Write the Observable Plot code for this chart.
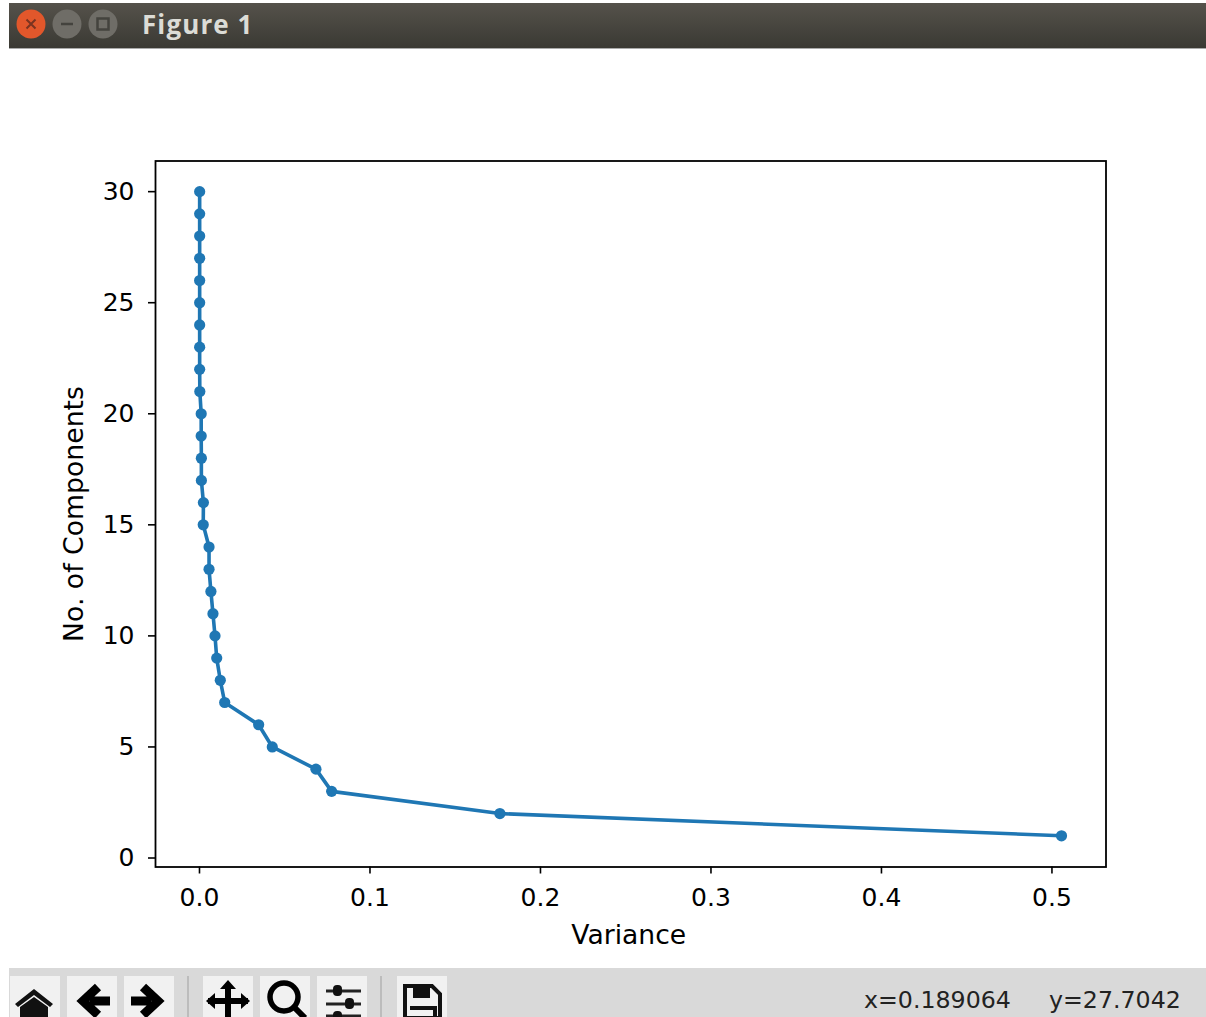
<!DOCTYPE html>
<html>
<head>
<meta charset="utf-8">
<title>Figure 1</title>
<script src="https://cdn.jsdelivr.net/npm/d3@7"></script>
<script src="https://cdn.jsdelivr.net/npm/@observablehq/plot@0.6"></script>
<style>
  html, body { margin: 0; padding: 0; background: #fff; width: 1206px; height: 1017px; overflow: hidden; }
  #chart { position: absolute; left: 0; top: 0; }
  #chart figure { margin: 0; }
  #titlebar { position: absolute; left: 9px; top: 3px; width: 1197px; height: 46px;
    background: linear-gradient(#55524b, #3a3933); border-bottom: 1px solid #aaa; box-sizing: border-box; }
  #titletext { position: absolute; left: 142px; top: 8px; font: bold 26px "Open Sans", sans-serif; letter-spacing: 1.1px; color: #dcdcd6; line-height: 32px; }
  #toolbar { position: absolute; left: 9px; top: 968px; width: 1197px; height: 49px; background: #d9d9d9; overflow: hidden; }
  #chrome { position: absolute; left: 0; top: 0; }
  .status { position: absolute; top: 985px; font: 23.7px "DejaVu Sans", sans-serif; color: #222; line-height: 30px; white-space: pre; }
</style>
</head>
<body>
<div id="chart"></div>
<div id="titlebar"></div>
<div id="toolbar"></div>
<svg id="chrome" width="1206" height="1017" viewBox="0 0 1206 1017">
  <circle cx="31" cy="24" r="14.5" fill="#e2572b"/>
  <path d="M26.5 19.5l9 9m0-9l-9 9" stroke="#7a3320" stroke-width="2"/>
  <circle cx="67" cy="24" r="14.5" fill="#6f6d67"/>
  <path d="M61 24h12" stroke="#44433e" stroke-width="2.5"/>
  <circle cx="103" cy="24" r="14.5" fill="#6f6d67"/>
  <rect x="97.5" y="18.5" width="11" height="11" fill="none" stroke="#44433e" stroke-width="2.5"/>
  <g fill="#f1f1f1">
    <rect x="10" y="976" width="50" height="41"/><rect x="67" y="976" width="50" height="41"/><rect x="124" y="976" width="50" height="41"/>
    <rect x="203" y="976" width="50" height="41"/><rect x="260" y="976" width="50" height="41"/><rect x="317" y="976" width="50" height="41"/>
    <rect x="397" y="976" width="50" height="41"/>
  </g>
  <path d="M188 976v41M381 976v41" stroke="#bcbcbc" stroke-width="2"/>
  <path d="M15 1004l19-15 19 15-3 3-16-12-16 12zM20 1007l14-10 14 10v10h-28z" fill="#111"/>
  <path d="M110 1001H90M98 987l-15 14 15 14" fill="none" stroke="#000" stroke-width="9"/>
  <path d="M131 1001h20M143 987l15 14-15 14" fill="none" stroke="#000" stroke-width="9"/>
  <path d="M228 986v31M208 1001h40" stroke="#000" stroke-width="6"/>
  <path d="M228 980l-8 9h16zM206 1001l9-8v16zM250 1001l-9-8v16z" fill="#000"/>
  <circle cx="284" cy="997" r="14" fill="none" stroke="#000" stroke-width="5.5"/>
  <path d="M294 1007l11 11" stroke="#000" stroke-width="6"/>
  <path d="M326 991h35M326 1004h35M326 1016h35" stroke="#222" stroke-width="3"/>
  <rect x="333" y="985" width="9" height="11" rx="4" fill="#111"/><rect x="345" y="998" width="9" height="11" rx="4" fill="#111"/><rect x="333" y="1011" width="9" height="11" rx="4" fill="#111"/>
  <path d="M405 986h27l8 8v24h-35z" fill="none" stroke="#111" stroke-width="4"/>
  <path d="M413 985v13h17v-13z" fill="#111"/><path d="M410 1008h25v10" fill="none" stroke="#111" stroke-width="4"/>
</svg>
<div id="titletext">Figure 1</div>
<div class="status" style="left:864px">x=0.189064</div>
<div class="status" style="left:1049px">y=27.7042</div>
<script>
const components = [1, 2, 3, 4, 5, 6, 7, 8, 9, 10, 11, 12, 13, 14, 15, 16, 17, 18, 19, 20, 21, 22, 23, 24, 25, 26, 27, 28, 29, 30];
const variance = [0.5056, 0.1762, 0.0775, 0.0683, 0.0427, 0.0347, 0.0148, 0.0122, 0.0101, 0.0091,
  0.0079, 0.0067, 0.0056, 0.0056, 0.0022, 0.0023, 0.0011, 0.0011, 0.001, 0.001,
  0.0002, 0.0001, 0.0001, 0.0001, 0.0001, 0.0001, 0.0001, 0.0001, 0.0001, 0.0001];
const xTicks = [0, 0.1, 0.2, 0.3, 0.4, 0.5];
const yTicks = [0, 5, 10, 15, 20, 25, 30];
const xLabel = "Variance";
const yLabel = "No. of Components";
const rows = components.map((n, i) => ({n, v: variance[i]}));

const plot = Plot.plot({
  width: 1206,
  height: 1017,
  marginTop: 160.5,
  marginBottom: 150.5,
  marginLeft: 155,
  marginRight: 100.5,
  style: {fontFamily: "'DejaVu Sans', sans-serif", fontSize: "25px", color: "#000", background: "transparent"},
  x: {domain: [-0.0258, 0.5317]},
  y: {domain: [-0.405, 31.38]},
  marks: [
    Plot.line(rows, {x: "v", y: "n", stroke: "#1f77b4", strokeWidth: 3.6, curve: "linear"}),
    Plot.dot(rows, {x: "v", y: "n", r: 5.6, fill: "#1f77b4"}),
    Plot.frame({stroke: "#000", strokeWidth: 1.8, strokeOpacity: 1}),
    Plot.axisX({ticks: xTicks, tickFormat: d => d.toFixed(1), tickSize: 7, tickPadding: 14, strokeWidth: 1.6, strokeOpacity: 1,
      label: xLabel, labelAnchor: "center", labelArrow: "none", labelOffset: 77}),
    Plot.axisY({ticks: yTicks, tickFormat: d => String(d), tickSize: 7, tickPadding: 14, strokeWidth: 1.6, strokeOpacity: 1,
      label: yLabel, labelAnchor: "center", labelArrow: "none", labelOffset: 91})
  ]
});
for (const t of plot.querySelectorAll("text")) {
  if (t.textContent === yLabel) t.style.fontSize = "26.7px";
  if (t.textContent === xLabel) {
    t.style.fontSize = "26.6px";
    t.setAttribute("dx", "-2");
  }
}
document.getElementById("chart").appendChild(plot);
</script>
</body>
</html>
